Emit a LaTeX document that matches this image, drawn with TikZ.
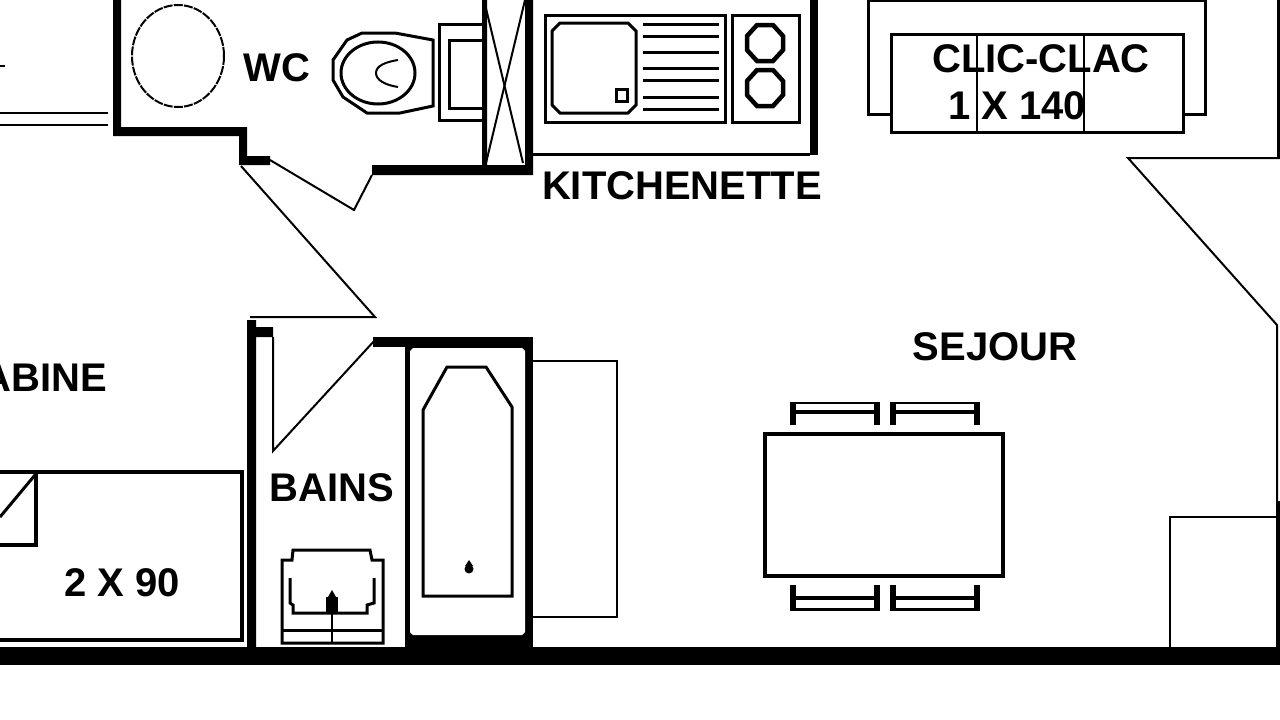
\documentclass[tikz,border=0pt]{standalone}
\usepackage{fontspec}
\setmainfont{Liberation Sans}
\tikzset{
    wall/.style={fill=black,draw=none},
    heavy/.style={black,line width=4.5pt,line join=miter},
    medium/.style={black,line width=3pt},
    fine/.style={black,line width=2pt},
    room/.style={font=\bfseries\fontsize{40}{40}\selectfont,inner sep=0pt}
}
\begin{document}
\begin{tikzpicture}[x=1pt,y=-1pt]
    \useasboundingbox (0,0) rectangle (1280,720);
    \fill[white] (0,0) rectangle (1280,720);

    % Draw the walls
    \fill[wall] (0,647) rectangle (1280,665);
    \fill[wall] (113,0) -- (121,0) -- (121,127) -- (247,127) -- (247,156) -- (270,156) -- (270,165) -- (239,165) -- (239,136) -- (113,136) -- cycle;
    \fill[wall] (372,165) -- (482,165) -- (482,0) -- (487,0) -- (487,165) -- (525,165) -- (525,0) -- (533,0) -- (533,175) -- (372,175) -- cycle;
    \fill[wall] (810,0) rectangle (818,155);
    \fill[wall] (247,320) -- (256,320) -- (256,327) -- (273,327) -- (273,337) -- (256,337) -- (256,647) -- (247,647) -- cycle;
    \fill[wall] (373,337) rectangle (533,347);
    \fill[wall] (1276,501) rectangle (1280,647);
    \fill[wall] (1277,0) rectangle (1280,159);
    \draw[medium] (533,154) -- (810,154);
    \draw[fine] (0,113) -- (108,113);
    \draw[fine] (0,125) -- (108,125);
    \draw[fine] (0,66) -- (5,66);

    % Doors
    \draw[fine] (241,166) -- (375,317) -- (250,317);
    \draw[fine] (270,160) -- (354,210) -- (372,175);
    \draw[fine] (273,337) -- (273,451) -- (375,340);
    \draw[fine] (1280,158) -- (1128,158) -- (1277,325) -- (1277,501);

    % Duct
    \draw[fine] (484,0) -- (523,163);
    \draw[fine] (525,0) -- (486,163);

    % WC
    \draw[fine,dash pattern=on 9pt off 1.2pt] (178,56) ellipse [x radius=46,y radius=51];
    \draw[medium] (433,40) -- (395,33) -- (362,33) -- (347,40) -- (333,60) -- (333,80) -- (343,97) -- (367,113) -- (400,113) -- (433,106) -- cycle;
    \draw[medium] (378,73) ellipse [x radius=37,y radius=31];
    \draw[fine] (398,60) .. controls (385,62) and (376,66) .. (376,73) .. controls (376,80) and (385,85) .. (398,87);
    \draw[medium] (482,24) -- (439,24) -- (439,120) -- (482,120);
    \draw[medium] (482,40) -- (449,40) -- (449,108) -- (482,108);

    % Kitchenette
    \draw[medium] (545,15) rectangle (725,122);
    \draw[medium] (732,15) rectangle (799,122);
    \draw[medium] (560,23) -- (628,23) -- (636,31) -- (636,105) -- (628,113) -- (560,113) -- (552,105) -- (552,31) -- cycle;
    \draw[medium] (616,89) rectangle (627,101);
    \foreach \y in {24,36,52,68,80,97,109} {
        \draw[medium] (643,\y) -- (719,\y);
    }
    \foreach \y in {43,88} {
        \draw[black,line width=4.5pt] (757,\y-18) -- (773,\y-18) -- (783,\y-7) -- (783,\y+7) -- (773,\y+18) -- (757,\y+18) -- (747,\y+7) -- (747,\y-7) -- cycle;
    }

    % Clic-clac
    \draw[medium] (891,114) -- (868,114) -- (868,0) -- (1205,0) -- (1205,114) -- (1183,114);
    \draw[medium] (891,34) rectangle (1183,132);
    \draw[fine] (977,34) -- (977,132);
    \draw[fine] (1084,34) -- (1084,132);

    % Bath
    \fill[wall] (405,337) rectangle (533,647);
    \fill[white] (413,348) -- (522,348) -- (525,351) -- (525,632) -- (522,635) -- (413,635) -- (410,632) -- (410,351) -- cycle;
    \draw[medium] (447,367) -- (486,367) -- (512,407) -- (512,596) -- (423,596) -- (423,410) -- cycle;
    \fill[black] (469,569) circle (4.5);
    \fill[black] (469,560) -- (473,566) -- (465,566) -- cycle;
    \draw[fine] (533,361) -- (617,361) -- (617,617) -- (533,617);

    % Basin
    \draw[medium] (282,643) -- (282,560) -- (292,560) -- (293,550) -- (370,550) -- (372,560) -- (383,560) -- (383,643) -- cycle;
    \draw[medium] (290,578) -- (290,603) -- (293,605) -- (293,613) -- (367,613) -- (367,605) -- (374,603) -- (374,578);
    \fill[black] (326,597) rectangle (338,613);
    \fill[black] (332,590) -- (336,597) -- (328,597) -- cycle;
    \draw[fine] (332,613) -- (332,643);
    \draw[medium] (282,630) -- (383,630);

    % Bed
    \draw[heavy] (0,472) -- (242,472) -- (242,640) -- (0,640);
    \draw[heavy] (0,545) -- (36,545) -- (36,472);
    \draw[medium] (35,475) -- (0,517);

    % Table and chairs
    \draw[heavy] (765,434) rectangle (1003,576);
    \foreach \x in {790,890} {
        \draw[fine] (\x+3,403) -- (\x+87,403);
        \draw[black,line width=3.5pt] (\x+6,412) -- (\x+84,412);
        \draw[black,line width=5.5pt] (\x+3,402) -- (\x+3,425);
        \draw[black,line width=5.5pt] (\x+87,402) -- (\x+87,425);
        \draw[medium] (\x+3,609) -- (\x+87,609);
        \draw[black,line width=3.5pt] (\x+6,598) -- (\x+84,598);
        \draw[black,line width=5.5pt] (\x+3,585) -- (\x+3,611);
        \draw[black,line width=5.5pt] (\x+87,585) -- (\x+87,611);
    }

    % Cupboard
    \draw[fine] (1170,647) -- (1170,517) -- (1277,517);

    % Labels
    \node[room] (wc) at (277,68) {WC};
    \node[room] (kitchenette) at (682,186) {KITCHENETTE};
    \node[room] (clicclac) at (1041,59) {CLIC-CLAC};
    \node[room] (sizeclic) at (1017,106) {1 X 140};
    \node[room] (sejour) at (995,347) {SEJOUR};
    \node[room] (bains) at (332,488) {BAINS};
    \node[room,anchor=east] (cabine) at (107,378) {ABINE};
    \node[room] (sizebed) at (122,583) {2 X 90};
\end{tikzpicture}
\end{document}
